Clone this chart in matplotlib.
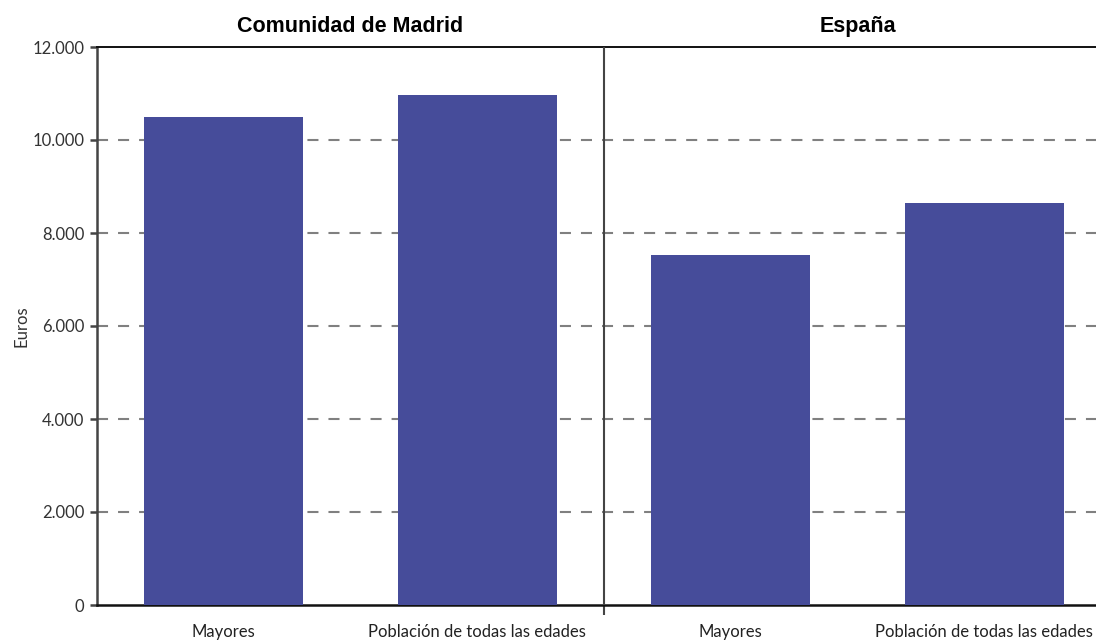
import matplotlib.pyplot as plt
import matplotlib.ticker as ticker

# --- data ---
panels = ["Comunidad de Madrid", "España"]
categories = ["Mayores", "Población de todas las edades"]
madrid_values = [10500, 10970]
espana_values = [7530, 8650]
y_ticks = [0, 2000, 4000, 6000, 8000, 10000, 12000]

bar_color = '#464c9a'
plt.rcParams['font.family'] = ['Lato', 'DejaVu Sans']

fig = plt.figure(figsize=(10.96, 6.43), dpi=100)
# axes run past the right edge of the figure, as in the original
ax = fig.add_axes([97 / 1096, 38 / 643, 1014 / 1096, 558 / 643])

values = madrid_values + espana_values
xpos = list(range(len(values)))
ax.bar(xpos, values, width=0.627, color=bar_color, zorder=3)

ax.set_xlim(-0.5, 3.5)
ax.set_ylim(0, 12000)

# dashed grid
for y in y_ticks[1:-1]:
    ax.axhline(y, color='#808080', linewidth=1.5, linestyle=(0, (5.3, 4.8)), zorder=1)

# divider between the two panels
ax.axvline(1.5, color='#444444', linewidth=1.5, zorder=4)

ax.set_yticks(y_ticks)
ax.yaxis.set_major_formatter(ticker.FuncFormatter(lambda v, p: f"{int(v):,}".replace(",", ".")))
ax.tick_params(axis='y', direction='out', length=5, width=1.8, color='#444444',
               labelsize=12, labelcolor='#333333', pad=4)

ax.set_xticks(xpos)
ax.set_xticklabels(categories * 2, fontsize=12, color='#222222')
ax.tick_params(axis='x', length=0, pad=14)
ax.set_xticks([1.5], minor=True)
ax.tick_params(axis='x', which='minor', length=7, width=1.5, color='#444444')

ax.set_ylabel("Euros", fontsize=12, color='#333333', labelpad=2)

for side in ['left', 'bottom']:
    ax.spines[side].set_linewidth(1.8)
ax.spines['left'].set_color('#444444')
ax.spines['bottom'].set_color('#111111')
ax.spines['top'].set_linewidth(1.4)
ax.spines['top'].set_color('#111111')
ax.spines['right'].set_visible(False)

# panel titles
for i, name in enumerate(panels):
    ax.text(0.5 + 2 * i, 12000 + 440, name, ha='center', va='center',
            fontsize=15.5, fontweight='bold', family='Liberation Sans')

fig.savefig("out.png", dpi=100)
